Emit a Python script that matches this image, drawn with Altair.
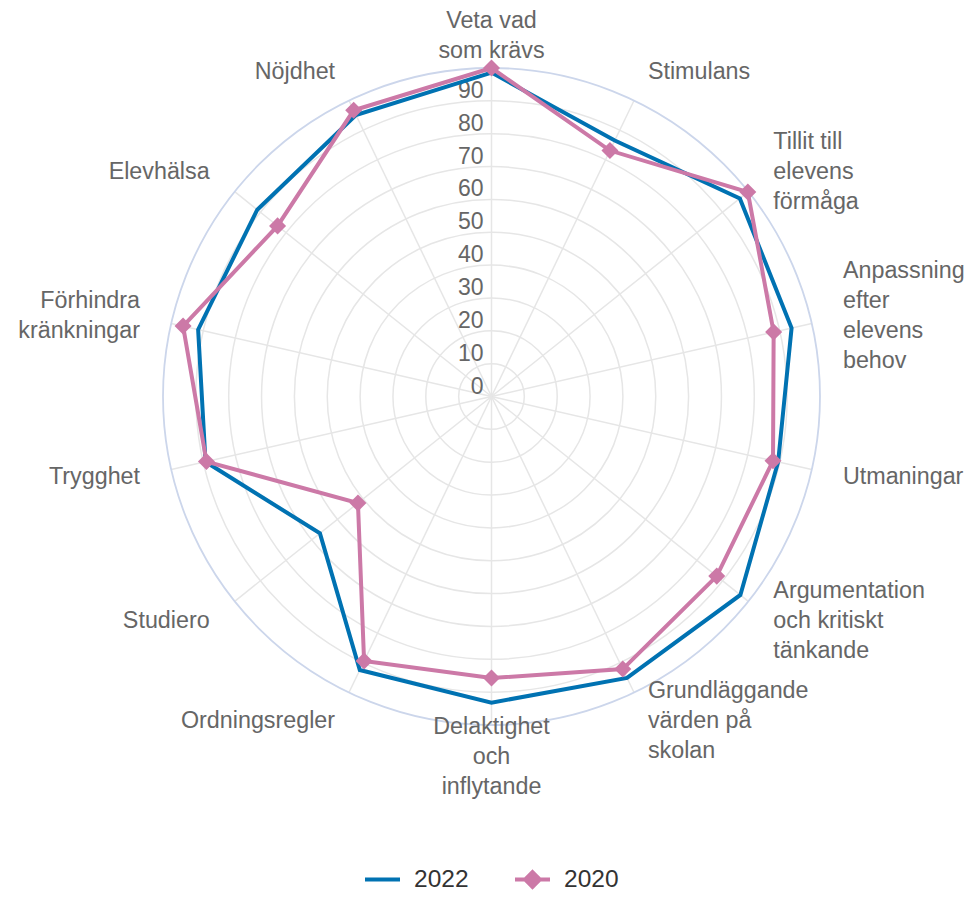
import math
import altair as alt
import pandas as pd

# ---------------- data ----------------
categories = [
    "Veta vad|som krävs",
    "Stimulans",
    "Tillit till|elevens|förmåga",
    "Anpassning|efter|elevens|behov",
    "Utmaningar",
    "Argumentation|och kritiskt|tänkande",
    "Grundläggande|värden på|skolan",
    "Delaktighet|och|inflytande",
    "Ordningsregler",
    "Studiero",
    "Trygghet",
    "Förhindra|kränkningar",
    "Elevhälsa",
    "Nöjdhet",
]
values_2022 = [98.6, 86.5, 96.7, 93.7, 89.5, 96.9, 95.1, 93.2, 92.4, 66.8, 89.3, 91.6, 91.2, 95.1]
values_2020 = [100.0, 83.1, 99.8, 88.1, 87.9, 87.7, 92.1, 85.7, 89.4, 52.0, 89.0, 96.3, 83.3, 96.7]
tick_values = [0, 10, 20, 30, 40, 50, 60, 70, 80, 90]
grid_values = [10, 20, 30, 40, 50, 60, 70, 80, 90]
outer_value = [100]

n = len(categories)
cat_df = pd.DataFrame({"i": list(range(n)), "label": categories})
s22 = pd.DataFrame({"i": list(range(n)), "value": values_2022, "series": ["2022"] * n})
s20 = pd.DataFrame({"i": list(range(n)), "value": values_2020, "series": ["2020"] * n})
ticks_df = pd.DataFrame({"v": tick_values})
grid_df = pd.DataFrame({"r": grid_values})
outer_df = pd.DataFrame({"r": outer_value})

W = 657
R = W / 2
PX_PER_UNIT = R / 100
LABEL_R = 100 + 32 / PX_PER_UNIT
LINE_H = 30
HALF_LINE_UNITS = (LINE_H / 2) / PX_PER_UNIT
FONT = "Liberation Sans"
BLUE = "#0072B2"
PINK = "#CC79A7"

xs = alt.Scale(domain=[-100, 100], nice=False, zero=False)
ys = alt.Scale(domain=[-100, 100], nice=False, zero=False)
ring_size = alt.Scale(type="pow", exponent=2, domain=[0, 100], range=[0, (2 * R) ** 2])

ANG = f"datum.i * 2 * PI / {n}"

X = lambda f: alt.X(f, type="quantitative", scale=xs, axis=None)
Y = lambda f: alt.Y(f, type="quantitative", scale=ys, axis=None)

rings = alt.Chart(grid_df).transform_calculate(zero="0").mark_point(
    shape="circle", filled=False, color="#e6e6e6", strokeWidth=1.5, opacity=1
).encode(x=X("zero"), y=Y("zero"), size=alt.Size("r:Q", scale=ring_size, legend=None))

outer = alt.Chart(outer_df).transform_calculate(zero="0").mark_point(
    shape="circle", filled=False, color="#ccd6eb", strokeWidth=1.8, opacity=1
).encode(x=X("zero"), y=Y("zero"), size=alt.Size("r:Q", scale=ring_size, legend=None))

spokes = alt.Chart(cat_df).transform_calculate(
    a=ANG, zero="0", ex="100*sin(datum.a)", ey="100*cos(datum.a)"
).mark_rule(color="#e6e6e6", strokeWidth=1.5).encode(
    x=X("zero"), y=Y("zero"), x2="ex:Q", y2="ey:Q"
)

ticks = alt.Chart(ticks_df).transform_calculate(zero="0").mark_text(
    align="right", baseline="alphabetic", dx=-8, dy=-3,
    font=FONT, fontSize=23, color="#666666"
).encode(x=X("zero"), y=Y("v"), text=alt.Text("v:Q"))

def series_xy(df):
    return alt.Chart(df).transform_calculate(
        a=ANG, px="datum.value*sin(datum.a)", py="datum.value*cos(datum.a)"
    )

leg22 = alt.Legend(
    orient="none", legendX=200, legendY=792, direction="horizontal", title=None,
    symbolType="stroke", symbolSize=1225, symbolStrokeWidth=4,
    symbolStrokeColor=BLUE, labelFontSize=24.5, labelColor="#333333",
    labelFont=FONT, labelOffset=12, padding=0
)
leg20 = alt.Legend(
    orient="none", legendX=350, legendY=792, direction="horizontal", title=None,
    symbolType="M-1,0L1,0M0,-0.42L0.42,0L0,0.42L-0.42,0Z", symbolSize=1225,
    symbolStrokeWidth=4, symbolStrokeColor=PINK, symbolFillColor=PINK,
    labelFontSize=24.5, labelColor="#333333", labelFont=FONT, labelOffset=12,
    padding=0
)

line22 = series_xy(s22).mark_line(interpolate="linear-closed", strokeWidth=4).encode(
    x=X("px"), y=Y("py"), order="i:Q",
    color=alt.Color("series:N", scale=alt.Scale(domain=["2022"], range=[BLUE]), legend=leg22),
)
line20 = series_xy(s20).mark_line(interpolate="linear-closed", strokeWidth=4).encode(
    x=X("px"), y=Y("py"), order="i:Q",
    color=alt.Color("series:N", scale=alt.Scale(domain=["2020"], range=[PINK]), legend=leg20),
)
pts20 = series_xy(s20).mark_point(shape="diamond", filled=True, size=290, color=PINK, opacity=1).encode(
    x=X("px"), y=Y("py")
)

def labels(filter_expr, align):
    return alt.Chart(cat_df).transform_calculate(
        a=ANG,
        nl="length(split(datum.label, '|'))",
        lx=f"{LABEL_R}*sin(datum.a)",
        ly=f"{LABEL_R}*cos(datum.a) + (datum.nl - 1) * {HALF_LINE_UNITS}",
    ).transform_filter(filter_expr).mark_text(
        align=align, baseline="middle", lineBreak="|", lineHeight=LINE_H,
        font=FONT, fontSize=23.3, color="#666666"
    ).encode(x=X("lx"), y=Y("ly"), text="label:N")

lab_c = labels("abs(sin(datum.a)) < 0.01", "center")
lab_l = labels("sin(datum.a) >= 0.01", "left")
lab_r = labels("sin(datum.a) <= -0.01", "right")

chart = alt.layer(
    rings, spokes, outer, ticks, line22, line20, pts20, lab_c, lab_l, lab_r
).resolve_scale(color="independent").properties(
    width=W, height=W,
    autosize=alt.AutoSizeParams(type="none"),
    padding={"left": 155, "top": 60, "right": 145, "bottom": 166},
).configure_view(strokeWidth=0)

chart.save("out.html", embed_options={"renderer": "svg", "actions": False})
